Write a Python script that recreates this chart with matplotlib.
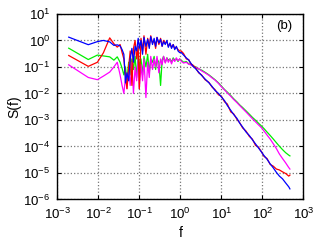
import matplotlib
matplotlib.use("Agg")
import matplotlib.pyplot as plt
from matplotlib.ticker import LogLocator, NullLocator

plt.rcParams['font.family'] = ['Liberation Sans', 'DejaVu Sans']
plt.rcParams['mathtext.default'] = 'regular'

# --- frequency grid (shared by all four spectra) ---
freq = [0.0019, 0.0057, 0.0095, 0.0133, 0.019, 0.024, 0.029, 0.034, 0.038,
        0.042, 0.046, 0.050, 0.055, 0.060, 0.066, 0.072, 0.079, 0.086, 0.094,
        0.10, 0.11, 0.12, 0.13, 0.145, 0.16, 0.175, 0.19, 0.21, 0.23,
        0.25, 0.27, 0.30, 0.33, 0.36, 0.39, 0.43, 0.47, 0.51, 0.56,
        0.61, 0.67, 0.73, 0.80, 0.88, 0.96,
        1.05, 1.2, 1.4, 1.6, 1.8, 2.0, 2.4, 2.8, 3.3, 4.0,
        5.0, 6.0, 7.0, 8.5, 10, 12, 14, 17, 20, 24,
        28, 33, 40, 48, 57, 68, 80, 95, 110, 130,
        155, 185, 220, 260, 310, 370, 440, 470]

# --- spectra S(f) ---
s_blue = [1.33, 0.69, 0.9, 1.0, 0.88, 0.65, 0.68, 0.62, 0.45,
          0.3, 0.025, 0.06, 0.03, 0.2, 0.5, 0.15, 0.6, 0.4, 1.2,
          0.5, 1.0, 0.3, 1.3, 0.6, 1.1, 0.5, 1.4, 0.7, 1.2,
          0.6, 1.3, 0.8, 1.1, 0.6, 0.9, 0.7, 1.0, 0.55, 0.8,
          0.5, 0.7, 0.45, 0.6, 0.4, 0.35,
          0.35, 0.28, 0.22, 0.18, 0.14, 0.11, 0.083, 0.063, 0.048, 0.035,
          0.025, 0.018, 0.013, 0.010, 7.4e-3, 5.3e-3, 3.5e-3, 2.3e-3, 1.6e-3, 1.15e-3,
          7.6e-4, 5.4e-4, 3.5e-4, 2.6e-4, 1.8e-4, 1.25e-4, 8.9e-5, 6.2e-5, 4.5e-5, 3.3e-5,
          2.2e-5, 1.55e-5, 1.05e-5, 7.6e-6, 6.0e-6, 4.2e-6, 3.0e-6, 2.5e-6]

s_red = [0.27, 0.105, 0.15, 0.34, 1.25, 0.75, 0.56, 0.7, 0.35,
         0.2, 0.05, 0.015, 0.1, 0.4, 0.02, 0.5, 1.0, 0.2, 0.6,
         0.015, 1.2, 0.4, 1.5, 0.3, 1.2, 0.6, 1.5, 0.8, 1.0,
         0.5, 1.3, 0.7, 1.2, 0.6, 1.0, 0.8, 0.9, 0.6, 0.75,
         0.55, 0.7, 0.5, 0.55, 0.45, 0.4,
         0.40, 0.32, 0.20, 0.19, 0.13, 0.12, 0.089, 0.060, 0.050, 0.033,
         0.026, 0.017, 0.014, 8.9e-3, 7.9e-3, 4.8e-3, 4.0e-3, 2.0e-3, 1.7e-3, 1.05e-3,
         7.9e-4, 5.0e-4, 3.8e-4, 2.4e-4, 1.9e-4, 1.1e-4, 9.5e-5, 6.3e-5, 4.2e-5, 3.5e-5,
         2.1e-5, 1.8e-5, 1.4e-5, 1.3e-5, 1.1e-5, 9.5e-6, 7.6e-6, 8.3e-6]

s_green = [0.51, 0.19, 0.28, 0.26, 0.24, 0.18, 0.24, 0.15, 0.09,
           0.05, 0.1, 0.03, 0.15, 0.05, 0.2, 0.08, 0.25, 0.04, 0.3,
           0.1, 0.2, 0.05, 0.25, 0.1, 0.3, 0.06, 0.2, 0.15, 0.25,
           0.08, 0.2, 0.15, 0.02, 0.18, 0.25, 0.15, 0.22, 0.18, 0.2,
           0.15, 0.22, 0.18, 0.2, 0.16, 0.2,
           0.18, 0.15, 0.16, 0.13, 0.126, 0.11, 0.10, 0.083, 0.076, 0.063,
           0.050, 0.040, 0.033, 0.025, 0.019, 0.014, 0.0112, 8.3e-3, 6.3e-3, 4.8e-3,
           3.7e-3, 2.95e-3, 2.2e-3, 1.66e-3, 1.26e-3, 9.8e-4, 7.6e-4, 5.9e-4, 4.7e-4, 3.5e-4,
           2.6e-4, 1.9e-4, 1.38e-4, 1.02e-4, 7.6e-5, 5.8e-5, 4.7e-5, 4.4e-5]

s_magenta = [0.12, 0.04, 0.033, 0.045, 0.064, 0.1, 0.15, 0.05, 0.02,
             0.01, 0.04, 0.015, 0.08, 0.02, 0.15, 0.01, 0.1, 0.03, 0.2,
             0.015, 0.12, 0.03, 0.2, 0.007, 0.15, 0.04, 0.25, 0.08, 0.2,
             0.1, 0.25, 0.06, 0.2, 0.12, 0.25, 0.14, 0.22, 0.15, 0.2,
             0.13, 0.2, 0.16, 0.22, 0.17, 0.2,
             0.166, 0.14, 0.15, 0.126, 0.12, 0.107, 0.095, 0.087, 0.071, 0.060,
             0.048, 0.038, 0.032, 0.024, 0.018, 0.0135, 0.0105, 7.8e-3, 5.9e-3, 4.5e-3,
             3.5e-3, 2.7e-3, 2.0e-3, 1.48e-3, 1.12e-3, 8.5e-4, 6.6e-4, 5.1e-4, 3.8e-4, 2.7e-4,
             1.9e-4, 1.26e-4, 8.3e-5, 5.2e-5, 3.5e-5, 2.4e-5, 1.6e-5, 1.4e-5]

fig = plt.figure(figsize=(3.2, 2.4), dpi=100)
ax = fig.add_axes([0.179, 0.169, 0.769, 0.773])

for s, c in [(s_green, '#00ee00'), (s_magenta, '#ff00ff'), (s_red, '#ff0000'), (s_blue, '#0000ff')]:
    ax.plot(freq, s, color=c, lw=0.9)

ax.set_xscale('log')
ax.set_yscale('log')
ax.set_xlim(1e-3, 1e3)
ax.set_ylim(1e-6, 1e1)
ax.xaxis.set_major_locator(LogLocator(base=10, numticks=10))
ax.yaxis.set_major_locator(LogLocator(base=10, numticks=10))
ax.xaxis.set_minor_locator(NullLocator())
ax.yaxis.set_minor_locator(NullLocator())
ax.tick_params(direction='in', length=3, width=0.8, top=True, right=True,
               labelsize=9.5, pad=5)
ax.grid(True, which='major', color='#777777', linestyle=':', linewidth=0.9)
for sp in ax.spines.values():
    sp.set_linewidth(1.0)

ax.set_xlabel('f', fontsize=10, labelpad=3)
ax.set_ylabel('S(f)', fontsize=10, labelpad=1)
ax.text(0.955, 0.965, '(b)', transform=ax.transAxes, ha='right', va='top', fontsize=9.5)

fig.savefig('out.png', dpi=100)
